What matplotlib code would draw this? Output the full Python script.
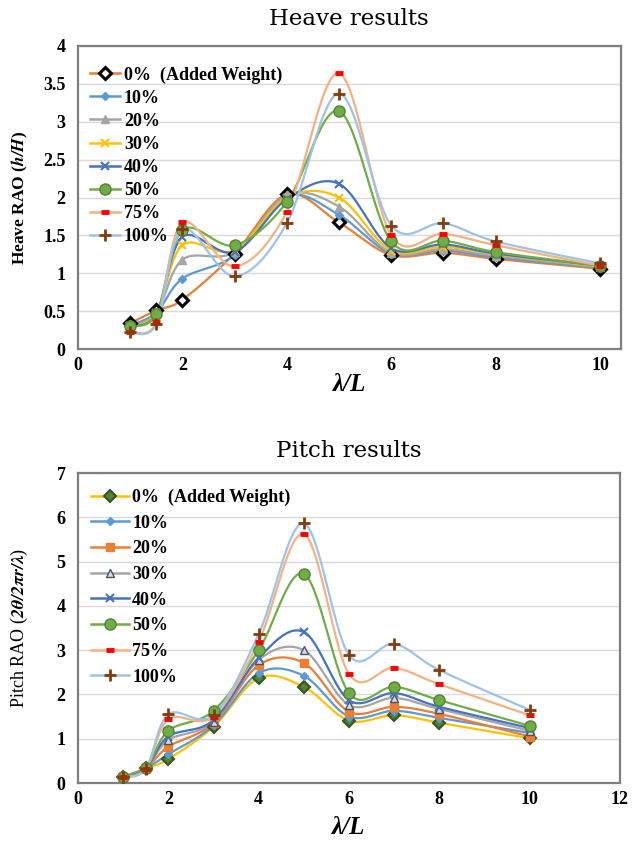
import numpy as np
import matplotlib.pyplot as plt
from matplotlib.lines import Line2D
from matplotlib.ticker import FuncFormatter

plt.rcParams['font.family'] = 'Liberation Serif'
plt.rcParams['mathtext.fontset'] = 'stix'

# wave length ratio lambda/L
x_vals = [1, 1.5, 2, 3, 4, 5, 6, 7, 8, 10]
labels = ['0%  (Added Weight)', '10%', '20%', '30%', '40%', '50%', '75%', '100%']

# heave RAO
heave_0 = [0.34, 0.51, 0.65, 1.26, 2.04, 1.67, 1.24, 1.27, 1.19, 1.06]
heave_10 = [0.31, 0.48, 0.93, 1.24, 2.02, 1.77, 1.26, 1.30, 1.21, 1.07]
heave_20 = [0.31, 0.47, 1.18, 1.28, 2.03, 1.88, 1.27, 1.32, 1.23, 1.08]
heave_30 = [0.30, 0.47, 1.37, 1.30, 2.00, 2.00, 1.30, 1.35, 1.25, 1.09]
heave_40 = [0.30, 0.46, 1.48, 1.28, 1.98, 2.18, 1.33, 1.38, 1.26, 1.10]
heave_50 = [0.30, 0.46, 1.57, 1.37, 1.94, 3.14, 1.42, 1.43, 1.28, 1.10]
heave_75 = [0.23, 0.35, 1.67, 1.09, 1.81, 3.64, 1.50, 1.52, 1.37, 1.10]
heave_100 = [0.22, 0.33, 1.58, 0.96, 1.66, 3.37, 1.63, 1.66, 1.42, 1.13]

# pitch RAO
pitch_0 = [0.14, 0.33, 0.54, 1.27, 2.37, 2.17, 1.41, 1.53, 1.36, 1.01]
pitch_10 = [0.14, 0.33, 0.65, 1.30, 2.48, 2.42, 1.50, 1.63, 1.47, 1.13]
pitch_20 = [0.14, 0.33, 0.82, 1.35, 2.66, 2.71, 1.61, 1.72, 1.56, 1.05]
pitch_30 = [0.14, 0.33, 0.97, 1.38, 2.78, 3.00, 1.76, 1.92, 1.67, 1.18]
pitch_40 = [0.14, 0.33, 1.05, 1.42, 2.83, 3.41, 1.87, 2.03, 1.72, 1.24]
pitch_50 = [0.14, 0.33, 1.18, 1.63, 3.00, 4.72, 2.03, 2.17, 1.87, 1.29]
pitch_75 = [0.13, 0.32, 1.44, 1.50, 3.19, 5.62, 2.46, 2.60, 2.23, 1.53]
pitch_100 = [0.13, 0.32, 1.55, 1.53, 3.36, 5.86, 2.89, 3.14, 2.55, 1.65]

heave_series = [heave_0, heave_10, heave_20, heave_30, heave_40, heave_50, heave_75, heave_100]
pitch_series = [pitch_0, pitch_10, pitch_20, pitch_30, pitch_40, pitch_50, pitch_75, pitch_100]

# line colour, marker, marker face, marker edge, marker size, marker edge width
heave_styles = [
    ('#ED7D31', 'D', 'white', 'black', 6, 2.2),
    ('#5B9BD5', 'D', '#5B9BD5', '#5B9BD5', 4, 1),
    ('#A5A5A5', '^', '#A5A5A5', '#A5A5A5', 6, 1),
    ('#FFC000', 'x', '#FFC000', '#FFC000', 6, 1.5),
    ('#4472C4', 'x', '#4472C4', '#4472C4', 6, 1.5),
    ('#70AD47', 'o', '#70AD47', '#548235', 8, 1),
    ('#F4B183', '_', 'red', 'red', 6, 3.5),
    ('#9DC3E6', '+', '#843C0C', '#843C0C', 9, 2),
]
pitch_styles = [
    ('#FFC000', 'D', '#548235', '#375623', 6, 1.5),
    ('#5B9BD5', 'D', '#5B9BD5', '#5B9BD5', 4, 1),
    ('#ED7D31', 's', '#ED7D31', '#ED7D31', 6, 1),
    ('#A5A5A5', '^', '#D6DCE5', '#44546A', 6, 1),
    ('#4472C4', 'x', '#4472C4', '#4472C4', 6, 1.5),
    ('#70AD47', 'o', '#70AD47', '#548235', 8, 1),
    ('#F4B183', '_', 'red', 'red', 6, 3.5),
    ('#9DC3E6', '+', '#843C0C', '#843C0C', 9, 2),
]


def smooth(ax, xs, ys, n=30):
    # excel-like smoothed line (bezier through points, done in screen space)
    pts = ax.transData.transform(np.column_stack([xs, ys]))
    out = [pts[0]]
    t = np.linspace(0, 1, n)[1:, None]
    for i in range(len(pts) - 1):
        p0 = pts[i - 1] if i > 0 else pts[i]
        p1 = pts[i]
        p2 = pts[i + 1]
        p3 = pts[i + 2] if i + 2 < len(pts) else pts[i + 1]
        c1 = p1 + (p2 - p0) / 6
        c2 = p2 - (p3 - p1) / 6
        seg = (1 - t)**3 * p1 + 3 * (1 - t)**2 * t * c1 + 3 * (1 - t) * t**2 * c2 + t**3 * p2
        out.extend(seg)
    out = ax.transData.inverted().transform(np.array(out))
    return out[:, 0], out[:, 1]


def draw(ax, series, styles, xlim, ylim, xticks, yticks):
    ax.set_xlim(*xlim)
    ax.set_ylim(*ylim)
    ax.set_xticks(xticks)
    ax.set_yticks(yticks)
    ax.yaxis.set_major_formatter(FuncFormatter(lambda v, p: f'{v:g}'))
    ax.grid(axis='y', color='#D9D9D9', lw=1)
    ax.set_axisbelow(True)
    for s in ax.spines.values():
        s.set_color('#7F7F7F')
        s.set_linewidth(1.6)
    ax.tick_params(length=0, labelsize=13)
    for lbl in ax.get_xticklabels() + ax.get_yticklabels():
        lbl.set_fontweight('bold')
    ax.tick_params(axis='y', pad=9)
    ax.tick_params(axis='x', pad=6)
    handles = []
    for ys, (lc, m, mfc, mec, ms, mew) in zip(series, styles):
        sx, sy = smooth(ax, x_vals, ys)
        ax.plot(sx, sy, color=lc, lw=1.6, zorder=2)
    for ys, (lc, m, mfc, mec, ms, mew) in zip(series, styles):
        ax.plot(x_vals, ys, ls='none', marker=m, mfc=mfc, mec=mec, ms=ms, mew=mew, zorder=3)
        handles.append(Line2D([], [], color=lc, lw=1.8, marker=m, mfc=mfc, mec=mec, ms=ms, mew=mew))
    return handles


fig = plt.figure(figsize=(6.32, 8.41), dpi=100)

ax1 = fig.add_axes([78 / 632, 1 - 349 / 841, 543 / 632, 303 / 841])
h1 = draw(ax1, heave_series, heave_styles, (0, 10.4), (0, 4),
          [0, 2, 4, 6, 8, 10], np.arange(0, 4.01, 0.5))
ax1.legend(h1, labels, loc='upper left', bbox_to_anchor=(-0.002, 0.975), frameon=False,
           prop={'weight': 'bold', 'size': 13}, handlelength=1.7, handletextpad=0.2,
           labelspacing=0.34, borderaxespad=0.3)
ax1.set_ylabel(r'Heave RAO ($\mathbfit{h/H}$)', fontsize=12.5, fontweight='bold')
ax1.yaxis.set_label_coords(-0.088, 0.5)
ax1.set_xlabel('λ/L', fontsize=18, fontweight='bold', fontstyle='italic')
ax1.xaxis.set_label_coords(0.5, -0.08)

ax2 = fig.add_axes([78 / 632, 1 - 783 / 841, 542 / 632, 310 / 841])
h2 = draw(ax2, pitch_series, pitch_styles, (0, 12), (0, 7),
          np.arange(0, 13, 2), np.arange(0, 8, 1))
ax2.legend(h2, labels, loc='upper left', bbox_to_anchor=(0.0, 0.99), frameon=False,
           prop={'weight': 'bold', 'size': 13}, handlelength=2.1, handletextpad=0.2,
           labelspacing=0.48, borderaxespad=0.3)
ax2.set_ylabel(r'Pitch RAO ($\mathbfit{2\theta/2\pi r/\lambda}$)', fontsize=13)
ax2.yaxis.set_label_coords(-0.088, 0.5)
ax2.set_xlabel('λ/L', fontsize=18, fontweight='bold', fontstyle='italic')
ax2.xaxis.set_label_coords(0.5, -0.105)

fig.text(349 / 632, 1 - 19 / 841, 'Heave results', ha='center', va='center',
         fontsize=16.5, family='DejaVu Serif')
fig.text(349 / 632, 1 - 451 / 841, 'Pitch results', ha='center', va='center',
         fontsize=16.5, family='DejaVu Serif')

fig.savefig('out.png', dpi=100)
